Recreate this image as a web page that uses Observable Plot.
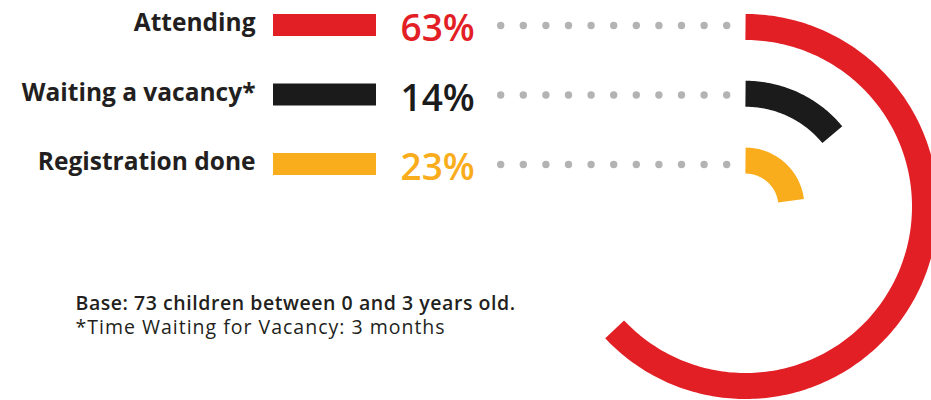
<!DOCTYPE html>
<html>
<head>
<meta charset="utf-8">
<script src="https://cdn.jsdelivr.net/npm/d3@7"></script>
<script src="https://cdn.jsdelivr.net/npm/@observablehq/plot@0.6"></script>
<style>
  html, body { margin: 0; padding: 0; background: #fff; }
  #chart svg { display: block; }
</style>
</head>
<body>
<div id="chart"></div>
<script>
// ---- data ----
const categories = ["Attending", "Waiting a vacancy*", "Registration done"];
const values = [63, 14, 23];
const colors = ["#e31f26", "#1b1b1b", "#f9ad1c"];
const notes = ["Base: 73 children between 0 and 3 years old.", "*Time Waiting for Vacancy: 3 months"];

// ---- layout ----
const W = 931, H = 400;
const cx = 745, cy = 206;           // ring centre
const ringMid0 = 179.5, ringStep = 66.8, ringWidth = 26;
const rowY = d3.scalePoint(categories, [25, 164]);
const font = "'Open Sans', sans-serif";
const ink = "#231f20";
const noteSpacing = ["0.55px", "1px"];

const rows = categories.map((c, i) => ({category: c, value: values[i], i}));

// arc points along each ring, derived from the value
const arcPts = rows.flatMap(d => {
  const r = ringMid0 - d.i * ringStep;
  const end = d.value / 100 * 2 * Math.PI;
  const n = Math.max(2, Math.ceil(d.value * 3.6));
  return d3.range(n + 1).map(k => {
    const a = end * k / n;
    return {category: d.category, x: cx + r * Math.sin(a), y: cy - r * Math.cos(a)};
  });
});

const chart = Plot.plot({
  width: W, height: H,
  margin: 0,
  x: {domain: [0, W], range: [0, W], axis: null},
  y: {domain: [0, H], range: [0, H], axis: null},
  color: {domain: categories, range: colors},
  style: {fontFamily: font, background: "#fff"},
  marks: [
    // dotted leaders
    Plot.ruleY(rows, {y: d => rowY(d.category), x1: 500.7, x2: 727.5,
      stroke: "#b3b3b3", strokeWidth: 7.4, strokeLinecap: "round", strokeDasharray: "0,22.6"}),
    // radial bars
    Plot.line(arcPts, {x: "x", y: "y", z: "category", stroke: "category",
      strokeWidth: ringWidth, strokeLinecap: "butt", strokeLinejoin: "round", curve: "linear"}),
    // legend swatches
    Plot.rect(rows, {x1: 273, x2: 376, y1: d => rowY(d.category) - 11, y2: d => rowY(d.category) + 11,
      fill: "category"}),
    // category labels
    Plot.text(rows, {x: 255, y: d => rowY(d.category) + 5.5, text: "category", textAnchor: "end",
      lineAnchor: "bottom", fontSize: 24.5, fontWeight: 700, fill: ink}),
    // percentages
    Plot.text(rows, {x: 400, y: d => rowY(d.category) + 15.5, text: d => d.value + "%", textAnchor: "start",
      lineAnchor: "bottom", fontSize: 37, fontWeight: 600, fill: "category"}),
    // footnotes
    Plot.text([notes[0]], {x: 75, y: 309, text: d => d, textAnchor: "start", lineAnchor: "bottom",
      fontSize: 19.5, fontWeight: 600, fill: ink}),
    Plot.text([notes[1]], {x: 75, y: 333.5, text: d => d, textAnchor: "start", lineAnchor: "bottom",
      fontSize: 19.5, fontWeight: 400, fill: ink})
  ]
});
chart.querySelectorAll("text").forEach(t => {
  const k = notes.indexOf(t.textContent);
  if (k >= 0) t.style.letterSpacing = noteSpacing[k];
});
document.getElementById("chart").append(chart);
</script>
</body>
</html>
